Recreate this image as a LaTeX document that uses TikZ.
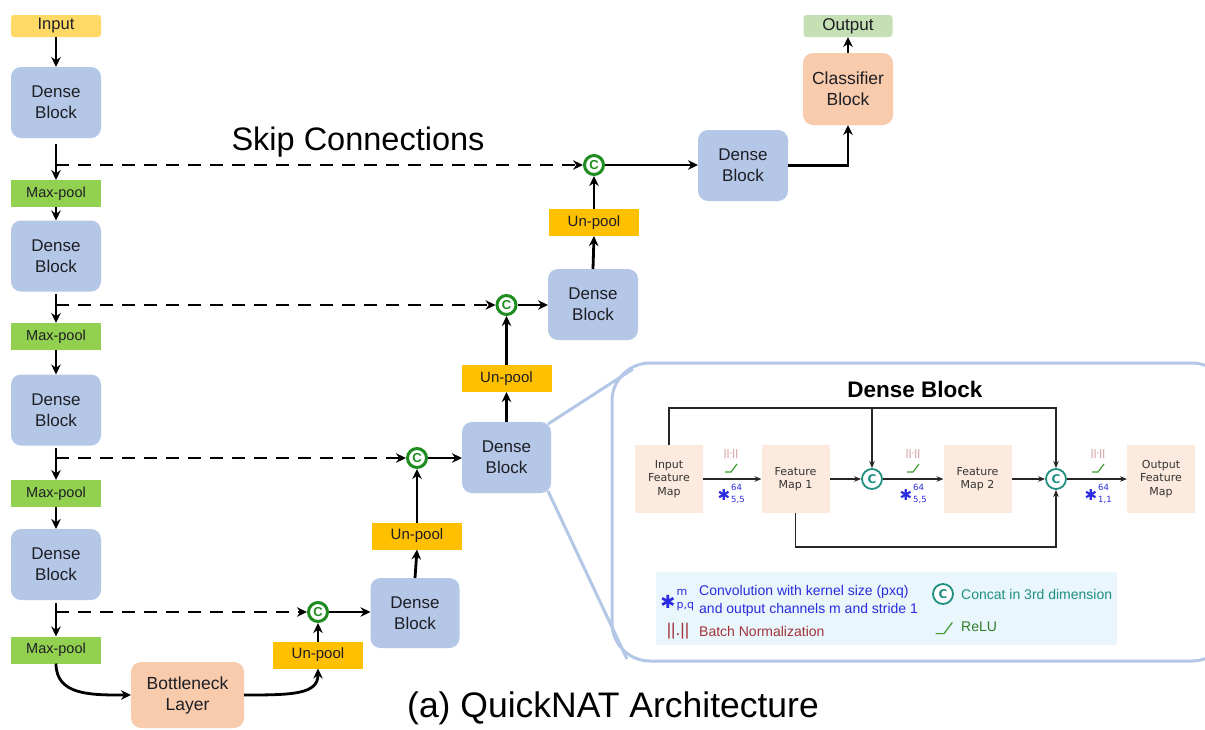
\documentclass[tikz,border=0pt]{standalone}
\usepackage{fontspec}
\setmainfont{Liberation Sans}
\newfontfamily\vfont{DejaVu Sans}
\usetikzlibrary{arrows.meta,calc}
\definecolor{dbblue}{HTML}{B4C7E7}
\definecolor{mpgreen}{HTML}{92D050}
\definecolor{upor}{HTML}{FFC000}
\definecolor{inyel}{HTML}{FFD966}
\definecolor{outgr}{HTML}{C5E0B4}
\definecolor{peach}{HTML}{F8CBAD}
\definecolor{cgreen}{HTML}{1E8C1E}
\definecolor{fmpeach}{HTML}{FCEADF}
\definecolor{cteal}{HTML}{1F8F80}
\definecolor{cblue}{HTML}{2A2AE0}
\definecolor{bnred}{HTML}{A0343A}
\definecolor{legbg}{HTML}{E9F6FB}
\definecolor{relugr}{HTML}{3F9A35}
\definecolor{txt}{HTML}{1E1E24}
\tikzset{
 boxbase/.style={inner sep=0pt, outer sep=0pt, align=center, text=txt},
 dense/.style={boxbase, fill=dbblue, rounded corners=10pt, minimum width=90pt, minimum height=71pt, font=\fontsize{17}{21}\selectfont},
 mpool/.style={boxbase, fill=mpgreen, minimum width=90pt, minimum height=27pt, font=\fontsize{14.5}{17}\selectfont},
 upool/.style={boxbase, fill=upor, minimum width=90pt, minimum height=27pt, font=\fontsize{15}{17}\selectfont},
 catc/.style={circle, draw=cgreen, line width=3pt, fill=white, minimum size=19pt, inner sep=0pt, outer sep=1.5pt, font=\bfseries\fontsize{13}{13}\selectfont, text=cgreen},
 arr/.style={-{Stealth[length=10pt,width=9.5pt]}, line width=2.8pt, draw=black},
 skiparr/.style={arr, dash pattern=on 13pt off 9pt},
 fm/.style={inner sep=0pt, outer sep=0pt, fill=fmpeach, minimum width=68pt, minimum height=68pt, align=center, font=\vfont\fontsize{11}{13.5}\selectfont, text=black!80},
 icat/.style={circle, draw=cteal, line width=1.8pt, fill=white, minimum size=20pt, inner sep=0pt, outer sep=0.9pt, font=\vfont\bfseries\fontsize{12}{12}\selectfont, text=cteal},
 iarr/.style={-{Stealth[length=7pt,width=5.5pt]}, line width=1.2pt, draw=black!85},
 bnlab/.style={inner sep=0pt, font=\vfont\fontsize{9}{9}\selectfont, text=bnred!65},
 star/.style={inner sep=0pt, text=cblue, font=\vfont\fontsize{15}{15}\selectfont},
 scr/.style={inner sep=0pt, anchor=west, text=cblue, font=\vfont\fontsize{8.5}{8.5}\selectfont},
 lstar/.style={inner sep=0pt, text=cblue, font=\vfont\fontsize{18}{18}\selectfont},
 lscr/.style={inner sep=0pt, anchor=west, text=cblue, font=\vfont\fontsize{11}{11}\selectfont},
 relu/.pic={\draw[relugr, line width=1.2pt] (-6,4) -- (0,4) -- (6,-4);},
 legtxt/.style={inner sep=0pt, anchor=west, align=left, font=\fontsize{14}{18}\selectfont}
}
\begin{document}
\begin{tikzpicture}[x=1pt,y=-1pt]
\useasboundingbox (0,0) rectangle (1205,729);
\fill[white] (0,0) rectangle (1205,729);

% ---------- inset frame ----------
\draw[dbblue, line width=3pt, rounded corners=38pt] (612,363) rectangle (1230,661);

% ---------- encoder column ----------
\node[boxbase, fill=inyel, rounded corners=3pt, minimum width=90pt, minimum height=22pt, font=\fontsize{16.5}{18}\selectfont] (in) at (56,26) {Input};
\node[dense] (db1) at (56,102.5) {Dense\\Block};
\node[mpool] (mp1) at (56,193.5) {Max-pool};
\node[dense] (db2) at (56,256) {Dense\\Block};
\node[mpool] (mp2) at (56,336.5) {Max-pool};
\node[dense] (db3) at (56,410) {Dense\\Block};
\node[mpool] (mp3) at (56,493.5) {Max-pool};
\node[dense] (db4) at (56,564.5) {Dense\\Block};
\node[mpool] (mp4) at (56,650) {Max-pool};
\node[boxbase, fill=peach, rounded corners=10pt, minimum width=113pt, minimum height=66pt, font=\fontsize{17.5}{21}\selectfont] (bn) at (187.5,695) {Bottleneck\\Layer};

% ---------- decoder ----------
\node[upool] (up1) at (318,655) {Un-pool};
\node[catc] (c1) at (318,612) {C};
\node[dense, minimum width=89pt, minimum height=70pt] (dbu1) at (415,613) {Dense\\Block};
\node[upool] (up2) at (417,536) {Un-pool};
\node[catc] (c2) at (417,458) {C};
\node[dense, minimum width=89pt] (dbu2) at (506.5,457.5) {Dense\\Block};
\node[upool] (up3) at (506.5,378.5) {Un-pool};
\node[catc] (c3) at (506.5,305) {C};
\node[dense] (dbu3) at (593,304.5) {Dense\\Block};
\node[upool] (up4) at (594,222.5) {Un-pool};
\node[catc] (c4) at (594,165) {C};
\node[dense] (dbu4) at (743,165.5) {Dense\\Block};
\node[boxbase, fill=peach, rounded corners=10pt, minimum width=90pt, minimum height=72pt, font=\fontsize{17.5}{21}\selectfont] (cls) at (848,89) {Classifier\\Block};
\node[boxbase, fill=outgr, rounded corners=3pt, minimum width=89pt, minimum height=22pt, font=\fontsize{17}{18}\selectfont] (out) at (848,26) {Output};

\draw[dbblue, line width=3pt] ($(dbu2.north east)+(-3,2)$) -- (633,369);
\draw[dbblue, line width=3pt] ($(dbu2.south east)+(-3,-2)$) -- (627,659);

% ---------- main connectors ----------
\draw[arr] (in.south) -- (db1.north);
\draw[arr] ([yshift=-6pt]db1.south) -- (mp1.north);
\draw[arr] (mp1.south) -- (db2.north);
\draw[arr] ([yshift=-2pt]db2.south) -- (mp2.north);
\draw[arr] (mp2.south) -- (db3.north);
\draw[arr] ([yshift=-2pt]db3.south) -- (mp3.north);
\draw[arr] (mp3.south) -- (db4.north);
\draw[arr] ([yshift=-3pt]db4.south) -- (mp4.north);
\draw[arr] (mp4.south) .. controls +(0,32) and +(-40,0) .. (bn.west);
\draw[arr] (bn.east) .. controls +(48,0) and +(0,26) .. (up1.south);

\draw[skiparr] (db1.south |- c4) -- (c4.west);
\draw[skiparr] (db2.south |- c3) -- (c3.west);
\draw[skiparr] (db3.south |- c2) -- (c2.west);
\draw[skiparr] (db4.south |- c1) -- (c1.west);

\draw[arr] (up1.north) -- (c1.south);
\draw[arr] (c1.east) -- (dbu1.west |- c1);
\draw[arr] (dbu1.north) -- (up2.south);
\draw[arr] (up2.north) -- (c2.south);
\draw[arr] (c2.east) -- (dbu2.west |- c2);
\draw[arr] (dbu2.north) -- (up3.south);
\draw[arr] (up3.north) -- (c3.south);
\draw[arr] (c3.east) -- (dbu3.west |- c3);
\draw[arr] (dbu3.north) -- (up4.south);
\draw[arr] (up4.north) -- (c4.south);
\draw[arr] (c4.east) -- (dbu4.west |- c4);
\draw[arr] (dbu4.east) -| (cls.south);
\draw[arr] (cls.north) -- (out.south);

\node[inner sep=0pt, font=\fontsize{32.5}{36}\selectfont] (skl) at (358,142) {Skip Connections};
\node[inner sep=0pt, font=\fontsize{35.5}{40}\selectfont] (ttl) at (613,708) {(a) QuickNAT Architecture};

% ---------- inset content ----------
\node[inner sep=0pt, font=\bfseries\fontsize{22.5}{26}\selectfont] (dbt) at (915,389) {Dense Block};
\node[fm] (ifm) at (669,479) {Input\\Feature\\Map};
\node[fm] (fm1) at (795.5,479) {Feature\\Map 1};
\node[icat] (ic1) at (872,479) {C};
\node[fm] (fm2) at (977.5,479) {Feature\\Map 2};
\node[icat] (ic2) at (1056,479) {C};
\node[fm] (ofm) at (1161,479) {Output\\Feature\\Map};
\coordinate (yhi) at (0,408);
\coordinate (ylo) at (0,547);

\draw[iarr] (ifm.east) -- (fm1.west);
\draw[iarr] (fm1.east) -- (ic1.west);
\draw[iarr] (ic1.east) -- (fm2.west);
\draw[iarr] (fm2.east) -- (ic2.west);
\draw[iarr] (ic2.east) -- (ofm.west);
\draw[iarr] (ifm.north) -- (ifm.north |- yhi) -| (ic2.north);
\draw[iarr] (ic1 |- yhi) -- (ic1.north);
\draw[iarr] (fm1.south) -- (fm1.south |- ylo) -| (ic2.south);

\node[bnlab] (bn1) at (731,454) {||·||};
\node[bnlab] (bn2) at (913,454) {||·||};
\node[bnlab] (bn3) at (1098,454) {||·||};
\pic at (731,468) {relu};
\pic at (913,468) {relu};
\pic at (1098,468) {relu};
\node[star] (s1) at (724,495) {✱};
\node[scr] (p1) at (731,487) {64};
\node[scr] (b1) at (731,500) {5,5};
\node[star] (s2) at (906,495) {✱};
\node[scr] (p2) at (913,487) {64};
\node[scr] (b2) at (913,500) {5,5};
\node[star] (s3) at (1091,495) {✱};
\node[scr] (p3) at (1098,487) {64};
\node[scr] (b3) at (1098,500) {1,1};

% ---------- legend ----------
\node[inner sep=0pt, fill=legbg, minimum width=461pt, minimum height=73pt] (leg) at (886.5,608.5) {};
\node[lstar] (ls) at (668,602) {✱};
\node[lscr] (lp) at (676.5,592) {m};
\node[lscr] (lb) at (676.5,607) {p,q};
\node[legtxt, text=cblue] (lct) at (699,601) {Convolution with kernel size (pxq)\\and output channels m and stride 1};
\node[inner sep=0pt, text=bnred, font=\fontsize{17}{17}\selectfont] (lbn) at (678,631) {||.||};
\node[legtxt, text=bnred] (lbt) at (699,631) {Batch Normalization};
\node[icat] (lcc) at (943,594) {C};
\node[legtxt, text=cteal] (lccc) at (961,594) {Concat in 3rd dimension};
\pic[scale=1.4] at (944,628) {relu};
\node[legtxt, text=relugr!80!black] (lrl) at (961,627) {ReLU};
\end{tikzpicture}
\end{document}
